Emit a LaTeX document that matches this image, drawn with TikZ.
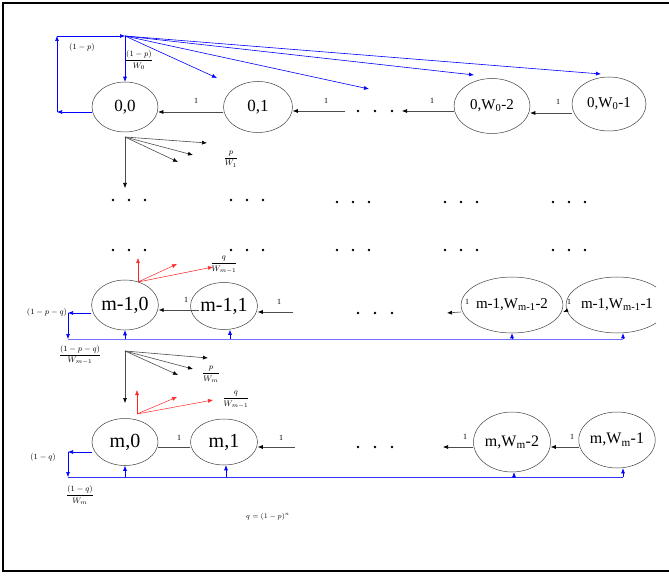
\documentclass[tikz,border=0pt]{standalone}
\usepackage{fontspec}
\setmainfont{Liberation Serif}
\usepackage{amsmath}
\usetikzlibrary{shapes.geometric,arrows.meta}
\tikzset{
 st/.style={draw=black!75, line width=0.5pt, ellipse, inner sep=0pt},
 big/.style={font=\fontsize{20}{22}\selectfont},
 mid/.style={font=\fontsize{17}{19}\selectfont},
 sml/.style={font=\fontsize{15}{17}\selectfont},
 arr/.style={draw=black!70, line width=0.6pt, -{Latex[length=5pt,width=4pt,color=black]}},
 ln/.style={draw=black!70, line width=0.6pt},
 barr/.style={draw=blue, line width=0.6pt, -{Latex[length=5pt,width=4pt]}},
 bln/.style={draw=blue!55, line width=0.7pt},
 bln2/.style={draw=blue!80, line width=0.7pt},
 rarr/.style={draw=red!85, line width=0.5pt, -{Latex[length=5pt,width=4pt]}},
 one/.style={font=\fontsize{8}{9}\selectfont, inner sep=0pt},
 lab/.style={font=\fontsize{8}{9}\selectfont, inner sep=0pt},
}
\begin{document}
\begin{tikzpicture}[x=1pt,y=-1pt]
\useasboundingbox (0,0) rectangle (669,577);
\draw[line width=2pt] (669,3) -- (3,3) -- (3,571) -- (669,571);
\begin{scope}
\clip (0,0) rectangle (656,577);
% ---------- row 0
\node[st,mid,minimum width=66pt,minimum height=50pt] (s00) at (125,107) {0,0};
\node[st,mid,minimum width=69pt,minimum height=51pt] (s01) at (258,107) {0,1};
\node[st,sml,minimum width=76pt,minimum height=55pt] (s0a) at (492,106) {0,W\textsubscript{0}-2};
\node[st,sml,minimum width=74pt,minimum height=54pt] (s0b) at (609,104) {0,W\textsubscript{0}-1};
\foreach \x in {358,375,392} \fill (\x,111) circle (1.4pt);
\coordinate (d0e) at (402,111);
\coordinate (d0s) at (345,111);
\draw[arr] ([yshift=-9pt]s0b.west) -- ([yshift=-7pt]s0a.east);
\draw[arr] ([yshift=-5pt]s0a.west) -- (d0e);
\draw[arr] (d0s) -- ([yshift=-4pt]s01.east);
\draw[arr] ([yshift=-5pt]s01.west) -- ([yshift=-5pt]s00.east);
\node[one] (o1) at (558,102) {1};
\node[one] (o2) at (432,101) {1};
\node[one] (o3) at (326,101) {1};
\node[one] (o4) at (196,101) {1};
% blue loop row 0
\coordinate (t0) at (125,36);
\coordinate (l0) at (57,112);
\coordinate (lt) at (57,36);
\draw[barr] ([yshift=-5pt]s00.west) -- (l0);
\draw[barr] (l0) -- (lt);
\draw[barr] (lt) -- (t0);
\draw[barr] (t0) -- (s00.north);
\coordinate (f1) at (217,78);
\coordinate (f2) at (369,89);
\coordinate (f3) at (474,75);
\coordinate (f4) at (601,74);
\foreach \f in {f1,f2,f3,f4} \draw[barr] (t0) -- (\f);
\node[lab] (lp) at (82,48) {$(1-p)$};
\node[lab] (lpw) at (139,60) {$\dfrac{(1-p)}{W_0}$};
% below row 0
\coordinate (b0) at (125,137);
\coordinate (b0d) at (125,188);
\draw[arr] (b0) -- (b0d);
\coordinate (g1) at (207,143);
\coordinate (g2) at (193,155);
\coordinate (g3) at (178,162);
\foreach \g in {g1,g2,g3} \draw[arr] (b0) -- (\g);
\node[lab] (pw1) at (231,159) {$\dfrac{p}{W_1}$};
% dots rows
\foreach \c/\y in {129/200,247/200,353/202,461/202,569/202,129/250,247/250,353/250,461/250,569/250}
  \foreach \d in {-16,0,16} \fill (\c+\d,\y) circle (1.4pt);
% ---------- row m-1
\node[st,big,minimum width=66pt,minimum height=50pt] (sm10) at (125,305) {m-1,0};
\node[st,big,minimum width=67pt,minimum height=47pt] (sm11) at (224,306) {m-1,1};
\node[st,sml,minimum width=79pt,minimum height=56pt] (sm1a) at (512,305) {m-1,W\textsubscript{m-1}-2};
\node[st,sml,minimum width=75pt,minimum height=56pt] (sm1b) at (617,305) {m-1,W\textsubscript{m-1}-1};
\foreach \x in {358,375,392} \fill (\x,313) circle (1.4pt);
\coordinate (m1s) at (293,312);
\coordinate (m1e) at (447,313);
\draw[arr] ([xshift=9pt,yshift=-4pt]sm11.west) -- ([yshift=-5pt]sm10.east);
\draw[arr] (m1s) -- ([yshift=-6pt]sm11.east);
\draw[arr] ([yshift=-7pt]sm1a.west) -- (m1e);
\draw[arr] ([yshift=-6pt]sm1b.west) -- ([yshift=-7pt]sm1a.east);
\node[one] (o5) at (186,300) {1};
\node[one] (o6) at (279,302) {1};
\node[one] (o7) at (467,302) {1};
\node[one] (o8) at (569,302) {1};
% red m-1
\coordinate (r1) at (138,282);
\coordinate (r1a) at (138,258);
\coordinate (r1b) at (177,264);
\coordinate (r1c) at (213,267);
\foreach \r in {r1a,r1b,r1c} \draw[rarr] (r1) -- (\r);
\node[lab] (qw1) at (224,265) {$\dfrac{q}{W_{m-1}}$};
% blue m-1
\coordinate (lm1) at (68,313);
\coordinate (bm1) at (68,339);
\coordinate (em1) at (623,339);
\draw[barr] ([yshift=-8pt]sm10.west) -- (lm1);
\draw[barr] (lm1) -- (bm1);
\draw[bln] (bm1) -- (em1);
\draw[barr] (sm10.south |- bm1) -- (sm10.south);
\draw[barr] ([xshift=6pt]sm11.south |- bm1) -- ([xshift=6pt]sm11.south);
\draw[barr] (sm1a.south |- bm1) -- (sm1a.south);
\draw[barr] ([xshift=6pt]sm1b.south |- bm1) -- ([xshift=6pt]sm1b.south);
\node[lab] (lpq) at (47,312) {$(1-p-q)$};
\node[lab] (lpqw) at (80,355) {$\dfrac{(1-p-q)}{W_{m-1}}$};
% ---------- between m-1 and m
\coordinate (bm) at (125,351);
\coordinate (bmd) at (125,403);
\draw[arr] (bm) -- (bmd);
\coordinate (h1) at (208,358);
\coordinate (h2) at (193,369);
\coordinate (h3) at (178,375);
\foreach \h in {h1,h2,h3} \draw[arr] (bm) -- (\h);
\node[lab] (pwm) at (211,374) {$\dfrac{p}{W_m}$};
\coordinate (r2) at (137,414);
\coordinate (r2a) at (137,390);
\coordinate (r2b) at (177,397);
\coordinate (r2c) at (213,400);
\foreach \r in {r2a,r2b,r2c} \draw[rarr] (r2) -- (\r);
\node[lab] (qw2) at (236,400) {$\dfrac{q}{W_{m-1}}$};
% ---------- row m
\node[st,big,minimum width=66pt,minimum height=47pt] (sm0) at (125,442) {m,0};
\node[st,big,minimum width=67pt,minimum height=46pt] (sm1) at (224,442) {m,1};
\node[st,font=\fontsize{16}{18}\selectfont,minimum width=77pt,minimum height=60pt] (sma) at (512,442) {m,W\textsubscript{m}-2};
\node[st,font=\fontsize{16}{18}\selectfont,minimum width=76pt,minimum height=56pt] (smb) at (617,440) {m,W\textsubscript{m}-1};
\foreach \x in {358,375,392} \fill (\x,447) circle (1.4pt);
\coordinate (ms) at (295,447);
\coordinate (me) at (443,447);
\draw[ln] ([yshift=-5pt]sm1.west) -- ([yshift=-5pt]sm0.east);
\draw[arr] (ms) -- ([yshift=-5pt]sm1.east);
\draw[arr] ([yshift=-5pt]sma.west) -- (me);
\draw[arr] ([yshift=-7pt]smb.west) -- ([yshift=-5pt]sma.east);
\node[one] (o9) at (179,438) {1};
\node[one] (o10) at (281,438) {1};
\node[one] (o11) at (465,437) {1};
\node[one] (o12) at (572,437) {1};
% blue m
\coordinate (lm) at (68,452);
\coordinate (bmb) at (68,477);
\coordinate (emb) at (623,477);
\draw[barr] ([yshift=-10pt]sm0.west) -- (lm);
\draw[barr] (lm) -- (bmb);
\draw[bln2] (bmb) -- (emb);
\draw[barr] (sm0.south |- bmb) -- (sm0.south);
\draw[barr] ([xshift=2pt]sm1.south |- bmb) -- ([xshift=2pt]sm1.south);
\draw[barr] ([xshift=2pt]sma.south |- bmb) -- ([xshift=2pt]sma.south);
\draw[barr] ([xshift=6pt]smb.south |- bmb) -- ([xshift=6pt]smb.south);
\node[lab] (lq) at (43,457) {$(1-q)$};
\node[lab] (lqw) at (80,495) {$\dfrac{(1-q)}{W_m}$};
\node[font=\fontsize{7}{8}\selectfont, inner sep=0pt] (qdef) at (268,517) {$q=(1-p)^n$};
\end{scope}
\end{tikzpicture}
\end{document}
